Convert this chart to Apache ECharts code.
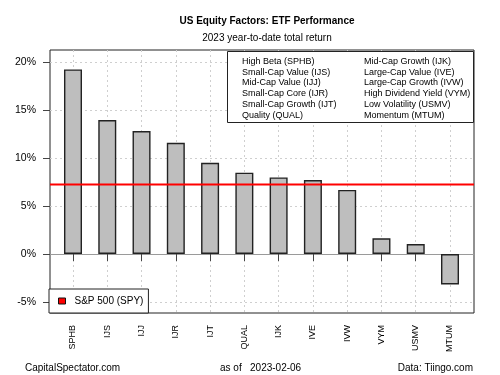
<!DOCTYPE html>
<html>
<head>
<meta charset="utf-8">
<script src="https://cdn.jsdelivr.net/npm/echarts@6/dist/echarts.min.js"></script>
<style>
html, body { margin: 0; padding: 0; background: #fff; }
#chart { width: 500px; height: 375px; }
</style>
</head>
<body>
<div id="chart"></div>
<script>
// ETF tickers and YTD total return (%)
var tickers = ['SPHB', 'IJS', 'IJJ', 'IJR', 'IJT', 'QUAL', 'IJK', 'IVE', 'IVW', 'VYM', 'USMV', 'MTUM'];
var returns = [19.23, 13.96, 12.81, 11.59, 9.5, 8.47, 7.98, 7.71, 6.67, 1.63, 1.04, -3.17];
var spyReturn = 7.25;
var factorsLeft = ['High Beta (SPHB)', 'Small-Cap Value (IJS)', 'Mid-Cap Value (IJJ)', 'Small-Cap Core (IJR)', 'Small-Cap Growth (IJT)', 'Quality (QUAL)'];
var factorsRight = ['Mid-Cap Growth (IJK)', 'Large-Cap Value (IVE)', 'Large-Cap Growth (IVW)', 'High Dividend Yield (VYM)', 'Low Volatility (USMV)', 'Momentum (MTUM)'];
var yTickMin = -5, yTickMax = 20, yStep = 5;

var font = 'Liberation Sans, Arial, sans-serif';

// frame box and the span covered by the tick range
var frame = { left: 50, right: 26, top: 50, bottom: 62 };
var tickBox = { top: 62, bottom: 73 };
var ppu = (375 - tickBox.top - tickBox.bottom) / (yTickMax - yTickMin);
var fullMax = yTickMax + (tickBox.top - frame.top) / ppu;
var fullMin = yTickMin - (tickBox.bottom - frame.bottom) / ppu;

var chart = echarts.init(document.getElementById('chart'));

var rows = factorsLeft.map(function (t, i) {
  return '{a|' + t + '}{b|' + factorsRight[i] + '}';
}).join('\n');

var txt = function (size, weight) {
  return { fontSize: size, fontWeight: weight || 'normal', color: '#000', fontFamily: font };
};

var option = {
  backgroundColor: '#fff',
  textStyle: { fontFamily: font },
  animation: false,
  title: [
    { text: 'US Equity Factors: ETF Performance', left: 262, top: 11, textAlign: 'center', textStyle: txt(10, 'bold') },
    { text: '2023 year-to-date total return', left: 262, top: 28, textAlign: 'center', textStyle: txt(10) },
    { text: rows, left: 227, top: 50,
      padding: [6, 0, 3, 15],
      backgroundColor: '#fff', borderColor: '#222', borderWidth: 1,
      textStyle: { fontFamily: font, fontWeight: 'normal', rich: {
        a: { width: 122, fontSize: 9, lineHeight: 10.8, color: '#000', fontWeight: 'normal', fontFamily: font },
        b: { width: 110, fontSize: 9, lineHeight: 10.8, color: '#000', fontWeight: 'normal', fontFamily: font }
      } } },
    { text: 'CapitalSpectator.com', left: 20, top: 358, textStyle: txt(10) },
    { text: 'as of   2023-02-06', left: 215, top: 358, textStyle: txt(10) },
    { text: 'Data: Tiingo.com', right: 22, top: 358, textStyle: txt(10) }
  ],
  legend: {
    data: [{ name: 'S&P 500 (SPY)', icon: 'rect',
      itemStyle: { color: '#ff0000', borderColor: '#111', borderWidth: 1 } }],
    left: 49, bottom: 62, itemWidth: 7, itemHeight: 6, itemGap: 5,
    padding: [7, 5, 7, 9],
    backgroundColor: '#fff', borderColor: '#222', borderWidth: 1, borderRadius: 0,
    textStyle: { fontSize: 10, color: '#000', fontFamily: font, padding: [0, 0, 0, 4] }
  },
  grid: [
    { left: frame.left, right: frame.right, top: frame.top, bottom: frame.bottom,
      show: true, borderColor: '#222', borderWidth: 1, backgroundColor: 'transparent' },
    { left: frame.left, right: frame.right, top: tickBox.top, bottom: tickBox.bottom },
    { left: 73, right: 50, top: frame.top, bottom: frame.bottom }
  ],
  xAxis: [
    { gridIndex: 0, type: 'value', show: false },
    { gridIndex: 1, type: 'value', min: 0, max: 1,
      axisLine: { show: true, onZero: true, lineStyle: { color: '#9a9a9a', width: 1 } },
      axisTick: { show: false }, axisLabel: { show: false }, splitLine: { show: false } },
    { gridIndex: 2, type: 'category', data: tickers, boundaryGap: false,
      axisLine: { show: false },
      axisTick: { show: true, inside: false, length: 7, interval: 0, lineStyle: { color: '#444' } },
      axisLabel: { interval: 0, rotate: 90, margin: 12, fontSize: 9, color: '#000', fontFamily: font },
      splitLine: { show: true, interval: 0, lineStyle: { color: '#cfcfcf', type: [2, 3], width: 1 } } }
  ],
  yAxis: [
    { gridIndex: 0, type: 'value', show: false },
    { gridIndex: 1, type: 'value', min: yTickMin, max: yTickMax, interval: yStep,
      axisLine: { show: false },
      axisTick: { show: true, length: 7, lineStyle: { color: '#444' } },
      axisLabel: { formatter: '{value}%', fontSize: 10.5, color: '#000', margin: 14, fontFamily: font },
      splitLine: { show: true, lineStyle: { color: '#cfcfcf', type: [2, 3], width: 1 } } },
    { gridIndex: 2, type: 'value', min: fullMin, max: fullMax, show: false, splitLine: { show: false } }
  ],
  series: [
    { name: 'ETF', type: 'bar', xAxisIndex: 2, yAxisIndex: 2, data: returns,
      barWidth: 18, clip: false, z: 3,
      itemStyle: { color: '#bebebe', borderColor: '#222', borderWidth: 1.4 } },
    { name: 'S&P 500 (SPY)', type: 'line', xAxisIndex: 1, yAxisIndex: 1,
      data: [[0, spyReturn], [1, spyReturn]], symbol: 'none', z: 4,
      lineStyle: { color: '#ff0000', width: 2 } }
  ]
};
chart.setOption(option);
</script>
</body>
</html>
